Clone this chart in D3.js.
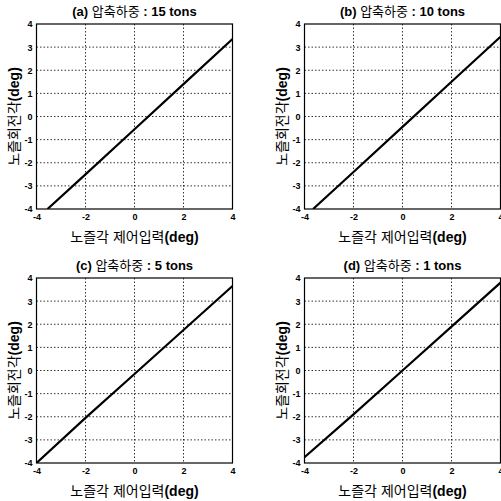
<!DOCTYPE html>
<html lang="ko">
<head>
<meta charset="UTF-8">
<title>노즐회전각 vs 노즐각 제어입력</title>
<script src="https://d3js.org/d3.v7.min.js"></script>
<style>
  body { margin: 0; background: #fff; }
  .tick text { font: bold 9px "Liberation Sans", Arial, sans-serif; fill: #000; }
  .grid line { stroke: #000; stroke-width: 0.8; stroke-dasharray: 1.5,2; }
  .title { font: 13px "Liberation Sans", Arial, "Noto Sans CJK KR", sans-serif; }
  .axlabel { font: 14px "Liberation Sans", Arial, "Noto Sans CJK KR", sans-serif; }
  tspan.b { font-weight: bold; }
</style>
</head>
<body>
<div id="chart"></div>
<script>
// panel titles and data
const tags = ["(a)", "(b)", "(c)", "(d)"];
const loads = ["15 tons", "10 tons", "5 tons", "1 tons"];
const xTicks = [-4, -2, 0, 2, 4];
const yTicks = [-4, -3, -2, -1, 0, 1, 2, 3, 4];

const xA = [-3.55, -2, 0, 2, 4];
const yA = [-4, -2.5, -0.55, 1.4, 3.35];
const xB = [-3.65, -2, 0, 2, 4];
const yB = [-4, -2.4, -0.45, 1.5, 3.45];
const xC = [-4, -2, 0, 2, 4];
const yC = [-4, -2.05, -0.15, 1.75, 3.65];
const xD = [-4, -2, 0, 2, 4];
const yD = [-3.75, -1.9, 0, 1.9, 3.8];
const series = [[xA, yA], [xB, yB], [xC, yC], [xD, yD]];

const W = 501, H = 501;
const svg = d3.select("#chart").append("svg").attr("width", W).attr("height", H);

// plot-box origins (left, top) of each panel
const boxes = [[36.5, 24], [304.5, 24], [36.5, 278], [304.5, 278]];
const bw = 196, bh = 185;

series.forEach((s, i) => {
    const [left, top] = boxes[i];
    const g = svg.append("g").attr("transform", `translate(${left},${top})`);
    const x = d3.scaleLinear().domain([-4, 4]).range([0, bw]);
    const y = d3.scaleLinear().domain([-4, 4]).range([bh, 0]);

    // grid
    g.append("g").attr("class", "grid")
        .selectAll("line").data(xTicks.slice(1, -1)).enter().append("line")
        .attr("x1", d => x(d)).attr("x2", d => x(d)).attr("y1", 0).attr("y2", bh);
    g.append("g").attr("class", "grid")
        .selectAll("line").data(yTicks.slice(1, -1)).enter().append("line")
        .attr("y1", d => y(d)).attr("y2", d => y(d)).attr("x1", 0).attr("x2", bw);

    // axes (hyphen minus like the original)
    g.append("g").attr("transform", `translate(0,${bh})`)
        .call(d3.axisBottom(x).tickValues(xTicks).tickSize(0).tickPadding(5).tickFormat(d => String(d)))
        .call(a => a.select(".domain").remove());
    g.append("g")
        .call(d3.axisLeft(y).tickValues(yTicks).tickSize(0).tickPadding(4).tickFormat(d => String(d)))
        .call(a => a.select(".domain").remove());

    // box
    g.append("rect").attr("width", bw).attr("height", bh)
        .attr("fill", "none").attr("stroke", "#000").attr("stroke-width", 1.2);

    // data line
    const clipId = "clip" + i;
    g.append("clipPath").attr("id", clipId).append("rect").attr("width", bw).attr("height", bh);
    const pts = s[0].map((v, k) => [v, s[1][k]]);
    g.append("path").datum(pts)
        .attr("clip-path", `url(#${clipId})`)
        .attr("fill", "none").attr("stroke", "#000").attr("stroke-width", 2.2)
        .attr("d", d3.line().x(d => x(d[0])).y(d => y(d[1])));

    // title
    const t = g.append("text").attr("class", "title")
        .attr("x", bw / 2).attr("y", -8).attr("text-anchor", "middle");
    t.append("tspan").attr("class", "b").text(tags[i] + " ");
    t.append("tspan").text("압축하중");
    t.append("tspan").attr("class", "b").text(" : " + loads[i]);

    // x label
    const xl = g.append("text").attr("class", "axlabel")
        .attr("x", bw / 2).attr("y", bh + 33).attr("text-anchor", "middle");
    xl.append("tspan").text("노즐각 제어입력");
    xl.append("tspan").attr("class", "b").text("(deg)");

    // y label
    const yl = g.append("text").attr("class", "axlabel")
        .attr("transform", `translate(-18,${bh / 2}) rotate(-90)`)
        .attr("text-anchor", "middle");
    yl.append("tspan").text("노즐회전각");
    yl.append("tspan").attr("class", "b").text("(deg)");
});
</script>
</body>
</html>
